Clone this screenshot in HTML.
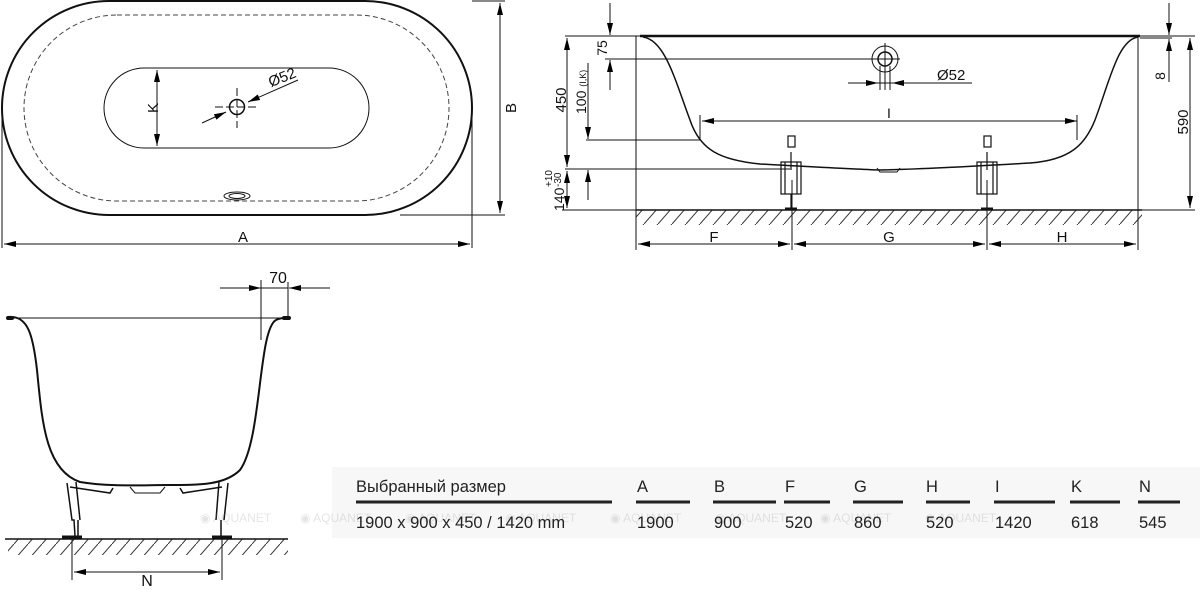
<!DOCTYPE html>
<html><head><meta charset="utf-8"><style>
html,body{margin:0;padding:0;background:#fff;}
svg{display:block;font-family:"Liberation Sans",sans-serif;}
</style></head><body>
<svg width="1200" height="603" viewBox="0 0 1200 603" xmlns="http://www.w3.org/2000/svg">
<defs>
<marker id="ar" viewBox="0 0 12 6" refX="12" refY="3" markerWidth="12" markerHeight="6" orient="auto-start-reverse" markerUnits="userSpaceOnUse"><path d="M0,0 L12,3 L0,6 z" fill="#000"/></marker>
<pattern id="hatch" width="14" height="16" patternUnits="userSpaceOnUse"><path d="M0,16 L14,0" stroke="#333" stroke-width="1"/></pattern>
</defs>
<g fill="none" stroke="#111" stroke-width="1">
<rect x="2" y="1" width="470" height="214" rx="107" ry="107" stroke-width="2"/>
<rect x="24" y="15" width="425" height="186" rx="93" ry="93" stroke-dasharray="5,3" stroke="#444"/>
<rect x="104" y="68" width="265" height="80" rx="40" ry="40"/>
<circle cx="237" cy="107" r="7.5" stroke-width="1.5"/>
<path d="M237,88 V128 M215,107 H259" stroke-dasharray="8,3"/>
<path d="M202,123 L226,112" marker-end="url(#ar)"/>
<path d="M298,80 L248,102" marker-end="url(#ar)"/>
<ellipse cx="237" cy="196" rx="13" ry="4"/><ellipse cx="237" cy="196" rx="8" ry="2.5"/>
<path d="M157,70 V146" marker-start="url(#ar)" marker-end="url(#ar)"/>
<path d="M472,1 H505 M400,215 H505 M472,107 V248 M2,107 V248"/>
<path d="M500,3 V213" marker-start="url(#ar)" marker-end="url(#ar)"/>
<path d="M4,244 H470" marker-start="url(#ar)" marker-end="url(#ar)"/>
<path d="M640,36 H1140" stroke-width="2.5"/>
<path d="M643,37 C665,40 675,80 690,120 C700,150 720,160 760,164 C800,166 850,169 880,170 C930,169 980,166 1030,163 C1070,160 1085,145 1095,120 C1110,80 1118,40 1138,37" stroke-width="1.5"/>
<path d="M877,168 L880,172 H897 L900,168" stroke-width="1"/>
<rect x="636" y="210" width="506" height="15" fill="url(#hatch)" stroke="none"/>
<path d="M636,210 H1142" stroke-width="1.5"/>
<path d="M636,36 V250 M1138,36 V250 M792,180 V250 M987,180 V250"/>
<g stroke-width="1.2">
<rect x="781" y="162" width="20" height="32"/><path d="M785,162 V194 M797,162 V194 M791,152 V170 M791,194 V208"/><rect x="788" y="136" width="7" height="11"/><path d="M785,209 H797" stroke-width="3"/>
<rect x="977" y="162" width="20" height="32"/><path d="M981,162 V194 M993,162 V194 M987,152 V170 M987,194 V208"/><rect x="984" y="136" width="7" height="11"/><path d="M981,209 H993" stroke-width="3"/>
</g>
<circle cx="885" cy="59" r="13"/><circle cx="885" cy="59" r="7" stroke-width="1.5"/>
<path d="M605,59 H900 M885,43 V90 M880,66 V90 M890,66 V90"/>
<path d="M848,83 H878" marker-end="url(#ar)"/><path d="M935,83 H892" marker-end="url(#ar)"/>
<path d="M878,83 H972"/>
<path d="M702,121 H1077" marker-start="url(#ar)" marker-end="url(#ar)"/>
<path d="M700,115 V140 M1077,115 V140"/>
<path d="M565,36 H640 M586,140 H700 M565,169 H790 M1140,36 H1195 M1140,38 H1172 M1142,210 H1195 M562,210 H636"/>
<path d="M567,38 V167" marker-start="url(#ar)" marker-end="url(#ar)"/>
<path d="M567,171 V208" marker-start="url(#ar)" marker-end="url(#ar)"/>
<path d="M610,3 V35" marker-end="url(#ar)"/><path d="M610,90 V60" marker-end="url(#ar)"/>
<path d="M588,63 V139" marker-end="url(#ar)"/><path d="M588,200 V170" marker-end="url(#ar)"/>
<path d="M1169,3 V35" marker-end="url(#ar)"/><path d="M1169,82 V39" marker-end="url(#ar)"/>
<path d="M1190,38 V208" marker-start="url(#ar)" marker-end="url(#ar)"/>
<path d="M638,244 H790" marker-start="url(#ar)" marker-end="url(#ar)"/>
<path d="M794,244 H985" marker-start="url(#ar)" marker-end="url(#ar)"/>
<path d="M989,244 H1136" marker-start="url(#ar)" marker-end="url(#ar)"/>
<path d="M8,318 H290"/>
<path d="M8,317 C28,315 33,335 37,370 C42,420 45,470 80,482 C110,487 140,485 170,485 C200,485 225,485 240,470 C262,440 258,330 276,320 C282,317 288,318 290,318" stroke-width="2"/>
<path d="M8,318 L12,318" stroke-width="4" stroke-linecap="round"/><path d="M284,318 L289,318" stroke-width="4" stroke-linecap="round"/>
<path d="M130,487 L135,493 H160 L165,487"/>
<path d="M67,483 L72,520 H74 L75,536 M76,482 L80,520 M78,520 V536 M70,487 L110,493 L113,488 M228,483 L224,520 M219,482 L216,520 M221,520 V536 M180,488 L183,493 L222,487" stroke-width="1.5"/>
<path d="M62,537 H82 M212,537 H232" stroke-width="3"/>
<rect x="8" y="539" width="280" height="16" fill="url(#hatch)" stroke="none"/>
<path d="M5,539 H288" stroke-width="1.5"/>
<path d="M72,537 V580 M222,537 V580"/>
<path d="M74,572 H220" marker-start="url(#ar)" marker-end="url(#ar)"/>
<path d="M220,288 H261" marker-end="url(#ar)"/><path d="M330,288 H289" marker-end="url(#ar)"/>
<path d="M261,280 V340 M288,282 V318 M261,288 H288"/>
</g>
<g font-size="15" fill="#111">
<text x="243" y="242" text-anchor="middle">A</text>
<text transform="translate(516,108) rotate(-90)" text-anchor="middle">B</text>
<text transform="translate(158,108) rotate(-90)" text-anchor="middle">K</text>
<text transform="translate(284,82) rotate(-22)" text-anchor="middle">Ø52</text>
<text x="937" y="80" font-size="15">Ø52</text>
<text x="889" y="118" text-anchor="middle" font-size="14">I</text>
<text x="714" y="242" text-anchor="middle">F</text>
<text x="889" y="242" text-anchor="middle">G</text>
<text x="1062" y="242" text-anchor="middle">H</text>
<text transform="translate(566,100) rotate(-90)" text-anchor="middle" font-size="15">450</text>
<text transform="translate(586,114) rotate(-90)" font-size="14">100 <tspan font-size="9">(I,K)</tspan></text>
<text transform="translate(607,48) rotate(-90)" text-anchor="middle" font-size="14">75</text>
<text transform="translate(564,211) rotate(-90)" font-size="14">140</text>
<text transform="translate(552,187) rotate(-90)" font-size="10">+10</text>
<text transform="translate(561,187) rotate(-90)" font-size="10">-30</text>
<text transform="translate(1165,76) rotate(-90)" text-anchor="middle" font-size="14">8</text>
<text transform="translate(1188,122) rotate(-90)" text-anchor="middle" font-size="15">590</text>
<text x="147" y="586" text-anchor="middle" font-size="16">N</text>
<text x="278" y="283" text-anchor="middle" font-size="16">70</text>
</g>
<rect x="332" y="467" width="868" height="71" fill="#f7f7f7"/>
<g fill="#999" font-size="12" opacity="0.25">
<text x="200" y="522">◉ AQUANET</text><text x="300" y="522">◉ AQUANET</text><text x="405" y="522">◉ AQUANET</text><text x="505" y="522">◉ AQUANET</text><text x="610" y="522">◉ AQUANET</text><text x="715" y="522">◉ AQUANET</text><text x="820" y="522">◉ AQUANET</text><text x="925" y="522">◉ AQUANET</text>
</g>
<g fill="#222" font-size="16.5">
<text x="356" y="492">Выбранный размер</text>
<text x="637" y="492">A</text><text x="714" y="492">B</text><text x="785" y="492">F</text><text x="854" y="492">G</text><text x="926" y="492">H</text><text x="995" y="492">I</text><text x="1071" y="492">K</text><text x="1139" y="492">N</text>
<text x="356" y="528">1900 x 900 x 450 / 1420 mm</text>
<text x="637" y="528">1900</text><text x="714" y="528">900</text><text x="785" y="528">520</text><text x="854" y="528">860</text><text x="926" y="528">520</text><text x="995" y="528">1420</text><text x="1071" y="528">618</text><text x="1139" y="528">545</text>
</g>
<g stroke="#222" stroke-width="3">
<path d="M356,502 H612 M636,502 H690 M713,502 H776 M784,502 H830 M853,502 H903 M926,502 H970 M994,502 H1055 M1070,502 H1120 M1138,502 H1180"/>
</g>
</svg>
</body></html>
